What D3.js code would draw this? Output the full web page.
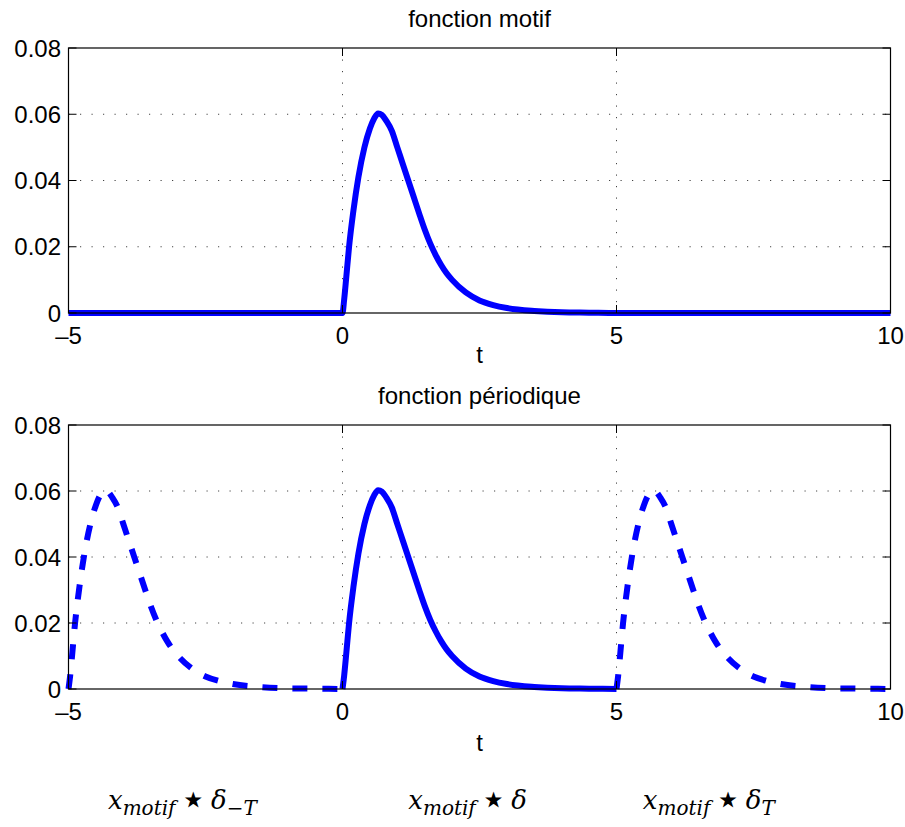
<!DOCTYPE html>
<html>
<head>
<meta charset="utf-8">
<script src="https://cdn.jsdelivr.net/npm/d3@7"></script>
<style>
  body { margin: 0; background: #fff; }
  svg { display: block; }
</style>
</head>
<body>
<div id="chart"></div>
<script>
// motif pulse (t, value)
var tMotif = [0, 0.03, 0.07, 0.12, 0.2, 0.29, 0.4, 0.5, 0.58, 0.65, 0.72, 0.8, 0.9, 1.0, 1.1, 1.2, 1.3, 1.4, 1.5, 1.6, 1.7, 1.8, 1.9, 2.0, 2.25, 2.5, 2.75, 3.0, 3.5, 4.0, 4.5, 5.0];
var vMotif = [0, 0.004, 0.011, 0.020, 0.031, 0.041, 0.050, 0.0557, 0.0588, 0.0602, 0.0598, 0.058, 0.055, 0.050, 0.045, 0.040, 0.035, 0.030, 0.0252, 0.021, 0.0175, 0.0145, 0.012, 0.010, 0.0062, 0.0038, 0.0024, 0.0015, 0.0006, 0.0002, 0.0001, 0];
var period = 5;

var xTicks = [-5, 0, 5, 10];
var xTickLabels = ["\u20135", "0", "5", "10"];
var yTicks = [0, 0.02, 0.04, 0.06, 0.08];
var yTickLabels = ["0", "0.02", "0.04", "0.06", "0.08"];
var titles = ["fonction motif", "fonction p\u00e9riodique"];

// formula labels under the second panel (start t)
var formulaT = [-4.28, 1.2, 5.48];
var formulaSub = ["\u2212T", "", "T"];

var W = 905, H = 827;
var svg = d3.select("#chart").append("svg").attr("width", W).attr("height", H);

var x = d3.scaleLinear().domain([-5, 10]).range([68.5, 890.5]);
var panels = [{top: 48, bottom: 313, xlab: 50}, {top: 425, bottom: 689, xlab: 62}];

var font = "'Liberation Sans', Arial, Helvetica, sans-serif";

var motif = tMotif.map(function (t, i) { return [t, vMotif[i]]; });

panels.forEach(function (p, k) {
	var y = d3.scaleLinear().domain([0, 0.08]).range([p.bottom, p.top]);
	var g = svg.append("g");

	// dotted grid
	g.selectAll(".vgrid").data(xTicks.slice(1, -1)).enter().append("line")
		.attr("x1", d => x(d)).attr("x2", d => x(d))
		.attr("y1", p.top).attr("y2", p.bottom)
		.attr("stroke", "#444").attr("stroke-width", 1).attr("stroke-dasharray", "1.2,10.3");
	g.selectAll(".hgrid").data(yTicks.slice(1, -1)).enter().append("line")
		.attr("x1", x(-5)).attr("x2", x(10))
		.attr("y1", d => y(d)).attr("y2", d => y(d))
		.attr("stroke", "#444").attr("stroke-width", 1).attr("stroke-dasharray", "1.2,10.3");

	var line = d3.line().x(d => x(d[0])).y(d => y(d[1])).curve(d3.curveMonotoneX);

	if (k === 0) {
		var full = [[-5, 0]].concat(motif).concat([[10, 0]]);
		g.append("path").attr("d", line(full))
			.attr("fill", "none").attr("stroke", "#0000ff").attr("stroke-width", 6)
			.attr("stroke-linejoin", "round");
	} else {
		[-period, period].forEach(function (s) {
			var shifted = motif.map(d => [d[0] + s, d[1]]);
			g.append("path").attr("d", line(shifted))
				.attr("fill", "none").attr("stroke", "#0000ff").attr("stroke-width", 6)
				.attr("stroke-dasharray", "15,15");
		});
		g.append("path").attr("d", line(motif))
			.attr("fill", "none").attr("stroke", "#0000ff").attr("stroke-width", 6)
			.attr("stroke-linejoin", "round");
	}

	// box
	g.append("rect").attr("x", x(-5)).attr("y", p.top)
		.attr("width", x(10) - x(-5)).attr("height", p.bottom - p.top)
		.attr("fill", "none").attr("stroke", "#000").attr("stroke-width", 1.2);

	// inward ticks on all four sides
	var tl = 8;
	xTicks.forEach(function (t) {
		g.append("line").attr("x1", x(t)).attr("x2", x(t)).attr("y1", p.bottom).attr("y2", p.bottom - tl).attr("stroke", "#000");
		g.append("line").attr("x1", x(t)).attr("x2", x(t)).attr("y1", p.top).attr("y2", p.top + tl).attr("stroke", "#000");
	});
	yTicks.forEach(function (v) {
		g.append("line").attr("x1", x(-5)).attr("x2", x(-5) + tl).attr("y1", y(v)).attr("y2", y(v)).attr("stroke", "#000");
		g.append("line").attr("x1", x(10)).attr("x2", x(10) - tl).attr("y1", y(v)).attr("y2", y(v)).attr("stroke", "#000");
	});

	g.selectAll(".xl").data(xTicks).enter().append("text")
		.attr("x", d => x(d)).attr("y", p.bottom + 31)
		.attr("text-anchor", "middle").attr("font-family", font).attr("font-size", 24)
		.text((d, i) => xTickLabels[i]);
	g.selectAll(".yl").data(yTicks).enter().append("text")
		.attr("x", 61).attr("y", d => y(d) + 8.5)
		.attr("text-anchor", "end").attr("font-family", font).attr("font-size", 24)
		.text((d, i) => yTickLabels[i]);

	g.append("text").attr("x", (x(-5) + x(10)) / 2).attr("y", p.bottom + p.xlab)
		.attr("text-anchor", "middle").attr("font-family", font).attr("font-size", 24).text("t");
	g.append("text").attr("x", (x(-5) + x(10)) / 2).attr("y", p.top - 21)
		.attr("text-anchor", "middle").attr("font-family", font).attr("font-size", 24).text(titles[k]);
});

// formulas
var serif = "'DejaVu Serif', serif";
formulaT.forEach(function (t, i) {
	var txt = svg.append("text").attr("x", x(t)).attr("y", 809)
		.attr("font-family", serif).attr("font-style", "italic").attr("font-size", 26);
	txt.append("tspan").text("x");
	txt.append("tspan").attr("dy", 6).attr("font-size", 20).text("motif");
	txt.append("tspan").attr("dy", -1).attr("dx", 4).attr("font-style", "normal")
		.attr("font-family", "'DejaVu Sans', sans-serif").attr("font-size", 44).text("\u22c6");
	txt.append("tspan").attr("dy", -5).attr("dx", 4).text("\u03b4");
	if (formulaSub[i]) txt.append("tspan").attr("dy", 6).attr("font-size", 20).text(formulaSub[i]);
});
</script>
</body>
</html>
